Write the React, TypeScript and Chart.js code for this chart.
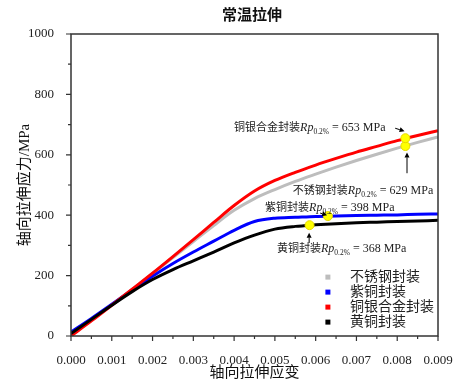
import React, { useEffect, useRef } from 'react';
import { Chart, registerables } from 'chart.js';

Chart.register(...registerables);

// ---------- data ----------
const strain = [0, 0.0005, 0.001, 0.0015, 0.002, 0.0025, 0.003, 0.0035, 0.004, 0.0045, 0.005, 0.0055, 0.006, 0.0065, 0.007, 0.0075, 0.008, 0.0085, 0.009];
const stainless = [8, 55, 103, 154, 207, 260, 313, 366, 416, 455, 485, 512, 536, 559, 581, 602, 622, 641, 659];
const copper = [13, 58, 105, 152, 198, 240, 278, 314, 350, 379, 390, 393, 396, 397, 399, 400, 401, 403, 404];
const alloy = [0, 50, 102, 155, 208, 263, 319, 376, 432, 480, 515, 542, 566, 588, 609, 628, 647, 664, 680];
const brass = [8, 55, 102, 147, 187, 220, 249, 278, 308, 334, 354, 363, 368, 372, 375, 377, 379, 381, 383];

const seriesNames = ['不锈钢封装', '紫铜封装', '铜银合金封装', '黄铜封装'];
const seriesColors = ['#bdbdbd', '#0000ff', '#ff0000', '#000000'];
const seriesValues = [stainless, copper, alloy, brass];

const yieldStrain = [0.0082, 0.0063, 0.0082, 0.00585];
const yieldStress = [629, 397, 655, 367];

const xTicks = [0, 0.001, 0.002, 0.003, 0.004, 0.005, 0.006, 0.007, 0.008, 0.009];
const xMinor = [0.0005, 0.0015, 0.0025, 0.0035, 0.0045, 0.0055, 0.0065, 0.0075, 0.0085];
const yTicks = [0, 200, 400, 600, 800, 1000];
const yMinor = [100, 300, 500, 700, 900];

const labelPrefix = ['铜银合金封装', '不锈钢封装', '紫铜封装', '黄铜封装'];
const labelValue = ['653', '629', '398', '368'];
const labelAtX = [0.0040, 0.00544, 0.00476, 0.00505];
const labelAtY = [678, 469, 413, 277];
const arrowFrom = [[0.00795, 688], [0.00824, 539], [0.00611, 407], [0.00584, 308]];
const arrowTo = [[0.00818, 678], [0.00824, 608], [0.00628, 400], [0.00584, 342]];

const SERIF = '"Liberation Serif", "DejaVu Serif", "Noto Sans CJK SC", serif';
const CJK = '"Liberation Serif", "Noto Sans CJK SC", serif';

function drawArrow(ctx: CanvasRenderingContext2D, x1: number, y1: number, x2: number, y2: number) {
  const ang = Math.atan2(y2 - y1, x2 - x1);
  const hl = 5, hw = 2.5;
  ctx.beginPath();
  ctx.moveTo(x1, y1);
  ctx.lineTo(x2 - Math.cos(ang) * hl, y2 - Math.sin(ang) * hl);
  ctx.stroke();
  ctx.beginPath();
  ctx.moveTo(x2, y2);
  ctx.lineTo(x2 - Math.cos(ang) * hl - Math.sin(ang) * hw, y2 - Math.sin(ang) * hl + Math.cos(ang) * hw);
  ctx.lineTo(x2 - Math.cos(ang) * hl + Math.sin(ang) * hw, y2 - Math.sin(ang) * hl - Math.cos(ang) * hw);
  ctx.closePath();
  ctx.fill();
}

const decorPlugin = {
  id: 'decor',
  afterDraw(chart: any) {
    const ctx: CanvasRenderingContext2D = chart.ctx;
    const { left, right, top, bottom } = chart.chartArea;
    const xs = chart.scales.x;
    const ys = chart.scales.y;
    ctx.save();
    // frame
    ctx.strokeStyle = '#333';
    ctx.lineWidth = 1.5;
    ctx.strokeRect(left, top, right - left, bottom - top);
    // ticks
    ctx.lineWidth = 1.2;
    ctx.beginPath();
    xTicks.forEach(v => { const p = xs.getPixelForValue(v); ctx.moveTo(p, bottom); ctx.lineTo(p, bottom + 5); });
    xMinor.forEach(v => { const p = xs.getPixelForValue(v); ctx.moveTo(p, bottom); ctx.lineTo(p, bottom + 3); });
    yTicks.forEach(v => { const p = ys.getPixelForValue(v); ctx.moveTo(left, p); ctx.lineTo(left - 5, p); });
    yMinor.forEach(v => { const p = ys.getPixelForValue(v); ctx.moveTo(left, p); ctx.lineTo(left - 3, p); });
    ctx.stroke();

    // title
    ctx.fillStyle = '#111';
    ctx.font = `bold 15px ${CJK}`;
    ctx.textAlign = 'center';
    ctx.textBaseline = 'middle';
    ctx.fillText('常温拉伸', 252, 16);

    // annotations
    ctx.textAlign = 'left';
    ctx.textBaseline = 'alphabetic';
    ctx.fillStyle = '#222';
    for (let i = 0; i < labelPrefix.length; i++) {
      let x = xs.getPixelForValue(labelAtX[i]);
      const y = ys.getPixelForValue(labelAtY[i]);
      ctx.font = `11px ${CJK}`;
      ctx.fillText(labelPrefix[i], x, y);
      x += ctx.measureText(labelPrefix[i]).width;
      ctx.font = `italic 12px ${SERIF}`;
      ctx.fillText('Rp', x, y);
      x += ctx.measureText('Rp').width;
      ctx.font = `7.5px ${SERIF}`;
      ctx.fillText('0.2%', x, y + 3);
      x += ctx.measureText('0.2%').width;
      ctx.font = `12px ${SERIF}`;
      ctx.fillText(' = ' + labelValue[i] + ' MPa', x, y);
    }
    // arrows
    ctx.strokeStyle = '#000';
    ctx.fillStyle = '#000';
    ctx.lineWidth = 1;
    for (let i = 0; i < arrowFrom.length; i++) {
      drawArrow(ctx,
        xs.getPixelForValue(arrowFrom[i][0]), ys.getPixelForValue(arrowFrom[i][1]),
        xs.getPixelForValue(arrowTo[i][0]), ys.getPixelForValue(arrowTo[i][1]));
    }

    // legend
    const lx = xs.getPixelForValue(0.0063);
    let ly = ys.getPixelForValue(195);
    ctx.font = `14px ${CJK}`;
    ctx.textBaseline = 'middle';
    for (let i = 0; i < seriesNames.length; i++) {
      ctx.fillStyle = seriesColors[i];
      ctx.fillRect(lx - 2.5, ly - 2.5, 5, 5);
      ctx.fillStyle = '#222';
      ctx.fillText(seriesNames[i], lx + 22, ly);
      ly += 15;
    }
    ctx.restore();
  },
};

export default function App() {
  const ref = useRef<HTMLCanvasElement | null>(null);
  useEffect(() => {
    document.body.style.margin = '0';
    const datasets: any[] = seriesValues.map((vals, i) => ({
      label: seriesNames[i],
      data: strain.map((x, k) => ({ x, y: vals[k] })),
      borderColor: seriesColors[i],
      backgroundColor: seriesColors[i],
      borderWidth: 3,
      pointRadius: 0,
      cubicInterpolationMode: 'monotone',
      fill: false,
      order: 10 - i,
    }));
    datasets.push({
      type: 'scatter',
      label: 'Rp0.2',
      data: yieldStrain.map((x, k) => ({ x, y: yieldStress[k] })),
      pointRadius: 4.5,
      pointBackgroundColor: '#ffff00',
      pointBorderColor: '#e6d800',
      pointBorderWidth: 1,
      showLine: false,
      order: 0,
    });
    const chart = new Chart(ref.current!, {
      type: 'line',
      data: { datasets },
      plugins: [decorPlugin],
      options: {
        animation: false,
        responsive: false,
        layout: { padding: { top: 34, right: 34, left: 0, bottom: 0 } },
        plugins: { legend: { display: false }, tooltip: { enabled: false }, title: { display: false } },
        scales: {
          x: {
            type: 'linear',
            min: 0,
            max: 0.009,
            grid: { display: false },
            border: { display: false },
            afterBuildTicks: (s: any) => { s.ticks = xTicks.map(v => ({ value: v })); },
            afterFit: (s: any) => { s.height = 50; },
            ticks: {
              padding: 9,
              maxRotation: 0,
              autoSkip: false,
              color: '#222',
              font: { family: SERIF, size: 13 },
              callback: (v: any) => Number(v).toFixed(3),
            },
            title: {
              display: true,
              text: '轴向拉伸应变',
              color: '#111',
              font: { family: CJK, size: 15 },
              padding: { top: 0, bottom: 4 },
            },
          },
          y: {
            type: 'linear',
            min: 0,
            max: 1000,
            grid: { display: false },
            border: { display: false },
            afterBuildTicks: (s: any) => { s.ticks = yTicks.map(v => ({ value: v })); },
            afterFit: (s: any) => { s.width = 71; },
            ticks: {
              padding: 9,
              color: '#222',
              font: { family: SERIF, size: 13 },
              callback: (v: any) => String(v),
            },
            title: {
              display: true,
              text: '轴向拉伸应力/MPa',
              color: '#111',
              font: { family: CJK, size: 15 },
              padding: { top: 16, bottom: 0 },
            },
          },
        },
      },
    });
    return () => chart.destroy();
  }, []);
  return (
    <div style={{ width: 472, height: 386 }}>
      <canvas ref={ref} width={472} height={386} style={{ display: 'block' }} />
    </div>
  );
}
